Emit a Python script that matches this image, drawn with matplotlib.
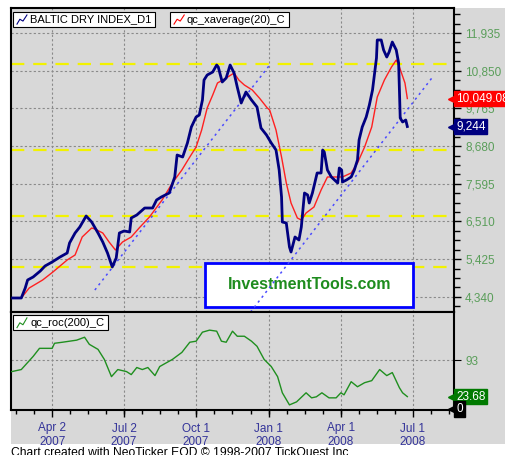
import numpy as np
import pandas as pd
import matplotlib
matplotlib.use("Agg")
import matplotlib.pyplot as plt
import matplotlib.dates as mdates
from matplotlib.patches import Rectangle
from matplotlib.lines import Line2D

plt.rcParams['font.family'] = ['Liberation Sans', 'DejaVu Sans']

# Baltic Dry Index (daily close)
bdi_dates = ["2007-02-11", "2007-02-22", "2007-02-27", "2007-03-02", "2007-03-09", "2007-03-18",
             "2007-03-24", "2007-04-02", "2007-04-12", "2007-04-21", "2007-04-24", "2007-05-01",
             "2007-05-07", "2007-05-15", "2007-05-22", "2007-05-30", "2007-06-05", "2007-06-11",
             "2007-06-17", "2007-06-22", "2007-06-26", "2007-07-02", "2007-07-09", "2007-07-11",
             "2007-07-18", "2007-07-28", "2007-08-07", "2007-08-12", "2007-08-18", "2007-08-28",
             "2007-09-04", "2007-09-07", "2007-09-14", "2007-09-20", "2007-09-25", "2007-10-01",
             "2007-10-05", "2007-10-09", "2007-10-11", "2007-10-15", "2007-10-22", "2007-10-27",
             "2007-10-29", "2007-11-03", "2007-11-08", "2007-11-13", "2007-11-18", "2007-11-22",
             "2007-11-27", "2007-12-03", "2007-12-10", "2007-12-17", "2007-12-22", "2007-12-29",
             "2008-01-04", "2008-01-10", "2008-01-14", "2008-01-17", "2008-01-18", "2008-01-23",
             "2008-01-27", "2008-01-29", "2008-02-03", "2008-02-08", "2008-02-11", "2008-02-15",
             "2008-02-19", "2008-02-21", "2008-02-25", "2008-03-02", "2008-03-07", "2008-03-09",
             "2008-03-11", "2008-03-15", "2008-03-20", "2008-03-24", "2008-03-28", "2008-03-30",
             "2008-04-02", "2008-04-03", "2008-04-08", "2008-04-14", "2008-04-18", "2008-04-22",
             "2008-04-24", "2008-04-28", "2008-05-03", "2008-05-07", "2008-05-11", "2008-05-16",
             "2008-05-17", "2008-05-22", "2008-05-25", "2008-05-29", "2008-06-01", "2008-06-05",
             "2008-06-10", "2008-06-13", "2008-06-14", "2008-06-15", "2008-06-18", "2008-06-22",
             "2008-06-24"]
bdi_values = [4308, 4308, 4596, 4826, 4913, 5085, 5229, 5344, 5488, 5603, 5891, 6179, 6352, 6668,
              6495, 6179, 5920, 5603, 5200, 5459, 6179, 6237, 6208, 6611, 6697, 6898, 6898, 7129,
              7215, 7330, 7791, 8424, 8366, 8769, 9230, 9517, 9575, 10007, 10582, 10726, 10813,
              11014, 10957, 10525, 10640, 11014, 10784, 10381, 9920, 10237, 10007, 9805, 9201,
              8999, 8769, 8568, 7992, 7215, 6495, 6467, 5776, 5632, 6064, 5977, 6352, 7330, 7273,
              7042, 7330, 7906, 7906, 8568, 8510, 7992, 7791, 7704, 7618, 8050, 7992, 7647, 7704,
              7791, 7992, 8280, 8856, 9230, 9517, 9863, 10295, 11216, 11734, 11734, 11446, 11244,
              11388, 11676, 11446, 11072, 10295, 9489, 9374, 9431, 9244]

# qc_xaverage(20)_C
avg_dates = ["2007-02-11", "2007-02-22", "2007-03-04", "2007-03-21", "2007-04-03", "2007-04-21",
             "2007-05-01", "2007-05-10", "2007-05-22", "2007-05-26", "2007-06-05", "2007-06-13",
             "2007-06-21", "2007-06-30", "2007-07-11", "2007-07-21", "2007-08-03", "2007-08-19",
             "2007-09-01", "2007-09-13", "2007-09-23", "2007-10-01", "2007-10-08", "2007-10-15",
             "2007-10-22", "2007-10-28", "2007-11-08", "2007-11-18", "2007-11-24", "2007-12-01",
             "2007-12-11", "2007-12-20", "2007-12-30", "2008-01-02", "2008-01-10", "2008-01-17",
             "2008-01-23", "2008-01-29", "2008-02-06", "2008-02-11", "2008-02-17", "2008-02-27",
             "2008-03-07", "2008-03-15", "2008-03-24", "2008-04-03", "2008-04-14", "2008-04-22",
             "2008-05-01", "2008-05-10", "2008-05-17", "2008-05-26", "2008-06-04", "2008-06-10",
             "2008-06-14", "2008-06-21", "2008-06-24"]
avg_values = [4308, 4308, 4596, 4826, 5057, 5402, 5546, 6064, 6323, 6294, 6179, 5920, 5690, 5920,
              6064, 6323, 6639, 7129, 7618, 7992, 8366, 8654, 9143, 9777, 10151, 10496, 10640,
              10784, 10582, 10438, 10295, 10064, 9777, 9719, 9143, 8366, 7618, 7042, 6611, 6553,
              6755, 6927, 7417, 7791, 7791, 7791, 7906, 8194, 8654, 9230, 10093, 10582, 10957,
              11158, 10957, 10496, 10049.08]

# qc_roc(200)_C
roc_dates = ["2007-02-10", "2007-02-22", "2007-03-09", "2007-03-17", "2007-04-02", "2007-04-05",
             "2007-04-15", "2007-04-24", "2007-05-03", "2007-05-13", "2007-05-19", "2007-05-30",
             "2007-06-07", "2007-06-16", "2007-06-24", "2007-07-05", "2007-07-11", "2007-07-18",
             "2007-07-25", "2007-08-01", "2007-08-10", "2007-08-16", "2007-08-25", "2007-09-01",
             "2007-09-13", "2007-09-23", "2007-10-01", "2007-10-09", "2007-10-18", "2007-10-27",
             "2007-11-02", "2007-11-08", "2007-11-16", "2007-11-22", "2007-12-01", "2007-12-10",
             "2007-12-17", "2007-12-26", "2008-01-04", "2008-01-12", "2008-01-18", "2008-01-27",
             "2008-02-05", "2008-02-17", "2008-02-24", "2008-03-01", "2008-03-08", "2008-03-17",
             "2008-03-26", "2008-04-01", "2008-04-05", "2008-04-14", "2008-04-22", "2008-05-01",
             "2008-05-10", "2008-05-20", "2008-05-29", "2008-06-05", "2008-06-14", "2008-06-18",
             "2008-06-24"]
roc_values = [71.7, 75.6, 100.8, 116.3, 116.3, 126, 128, 130, 132, 137.6, 124, 114.3, 95, 62, 75.6,
              71.7, 65.9, 79.5, 75.6, 79.5, 64, 81.4, 89.1, 95, 108.5, 128, 130, 147.3, 151.2,
              149.2, 130, 128, 149.2, 139.5, 139.5, 130, 120.2, 95, 81.4, 62, 31, 7.8, 13.6, 31,
              21.3, 23.3, 31, 21.3, 21.3, 31, 27.1, 52.3, 42.6, 50.4, 54.3, 75.6, 64, 69.8, 40.7,
              31, 23.68]

# trend lines (start, end)
trend1_dates = ["2007-05-26", "2008-01-02"]
trend1_values = [4538, 11014]
trend2_dates = ["2007-12-04", "2008-07-26"]
trend2_values = [3762, 10669]

yellow_levels = [11050, 8568, 6668, 5209]
price_ticks = [4340, 5425, 6510, 7595, 8680, 9765, 10850, 11935]
roc_ticks = [93]
x_ticks = ["2007-04-02", "2007-07-02", "2007-10-01", "2008-01-01", "2008-04-01", "2008-07-01"]
x_ticklabels = ["Apr 2\n2007", "Jul 2\n2007", "Oct 1\n2007", "Jan 1\n2008", "Apr 1\n2008", "Jul 1\n2008"]
x_range = ["2007-02-09", "2008-08-22"]

BG = '#d8d8d8'
GRID = '#8a8a8a'
TICKCOL = '#5a9e5a'

W, H = 506, 455
fig = plt.figure(figsize=(W / 100, H / 100), dpi=100)
fig.patch.set_facecolor('white')
fig.patches.append(Rectangle((11 / W, 1 - 444 / H), 1 - 11 / W, (444 - 8) / H,
                             transform=fig.transFigure, fc=BG, ec='none', zorder=-10))

ax = fig.add_axes([11 / W, 1 - 312 / H, 443 / W, 304 / H])
ax2 = fig.add_axes([11 / W, 1 - 410 / H, 443 / W, 98 / H], sharex=ax)

d = lambda s: pd.to_datetime(s)

for a in (ax, ax2):
    a.set_facecolor(BG)
    for sp in a.spines.values():
        sp.set_linewidth(1.5)
        sp.set_color('black')
    a.yaxis.tick_right()
    a.grid(True, color=GRID, linestyle=(0, (2, 2)), linewidth=0.8)
    a.set_axisbelow(True)

# ---- main panel ----
for lv in yellow_levels:
    ax.axhline(lv, color='#f2f200', linestyle=(0, (6, 4)), linewidth=1.6, zorder=1)

ax.add_patch(Rectangle((0.438, 0.016), 0.469, 0.145, transform=ax.transAxes,
                       fc='white', ec='#0000ff', lw=2, zorder=3))
ax.text(0.673, 0.089, 'InvestmentTools.com', transform=ax.transAxes, ha='center', va='center',
        fontsize=11.5, fontweight='bold', color='#1e8c1e', zorder=4)

ax.plot(d(trend1_dates), trend1_values, color='#4a4aff', linestyle=(0, (1.5, 2.5)), lw=1.1, zorder=4)
ax.plot(d(trend2_dates), trend2_values, color='#4a4aff', linestyle=(0, (1.5, 2.5)), lw=1.1, zorder=4)
ax.plot(d(avg_dates), avg_values, color='#ff2020', lw=1.0, zorder=5)
ax.plot(d(bdi_dates), bdi_values, color='#000080', lw=2.0, zorder=6)

ax.set_ylim(3905, 12655)
ax.set_yticks(price_ticks)
ax.set_yticklabels([f"{v:,}" for v in price_ticks])
ax.yaxis.set_minor_locator(matplotlib.ticker.MultipleLocator(271.25))
ax.tick_params(axis='y', which='major', length=5, width=1, labelsize=8.5, labelcolor=TICKCOL, pad=3)
ax.tick_params(axis='y', which='minor', length=4, width=1)
ax.tick_params(axis='x', which='both', bottom=False, labelbottom=False)

# legend boxes
ax.add_patch(Rectangle((0.0045, 0.9375), 0.3205, 0.0493, transform=ax.transAxes,
                       fc='white', ec='black', lw=0.8, zorder=7))
ax.text(0.043, 0.962, 'BALTIC DRY INDEX_D1', transform=ax.transAxes, va='center',
        fontsize=8, zorder=8)
ax.add_line(Line2D([0.0135, 0.020, 0.027, 0.036], [0.947, 0.963, 0.957, 0.977],
                   transform=ax.transAxes, color='#000080', lw=0.8, zorder=8))
ax.add_patch(Rectangle((0.359, 0.9375), 0.2686, 0.0493, transform=ax.transAxes,
                       fc='white', ec='black', lw=0.8, zorder=7))
ax.text(0.397, 0.962, 'qc_xaverage(20)_C', transform=ax.transAxes, va='center',
        fontsize=8, zorder=8)
ax.add_line(Line2D([0.368, 0.375, 0.382, 0.391], [0.947, 0.963, 0.957, 0.977],
                   transform=ax.transAxes, color='red', lw=0.8, zorder=8))

# last value flags
bt = matplotlib.transforms.blended_transform_factory(ax.transAxes, ax.transData)
for val, txt, col in [(avg_values[-1], f"{avg_values[-1]:,.2f}", 'red'),
                      (bdi_values[-1], f"{bdi_values[-1]:,}", '#000080')]:
    ax.plot([0.9955], [val], marker='<', color=col, markersize=6, transform=bt, clip_on=False, zorder=9)
    ax.text(1.005, val, txt, transform=bt, ha='left', va='center', fontsize=8.5, color='white',
            bbox=dict(boxstyle='square,pad=0.15', fc=col, ec=col), clip_on=False, zorder=9)

# ---- lower panel ----
ax2.plot(d(roc_dates), roc_values, color='#1f8f1f', lw=1.0, zorder=5)
ax2.set_ylim(-2, 186)
ax2.set_yticks(roc_ticks)
ax2.tick_params(axis='y', length=5, labelsize=8.5, labelcolor=TICKCOL, pad=3)

ax2.add_patch(Rectangle((0.0045, 0.814), 0.2144, 0.155, transform=ax2.transAxes,
                        fc='white', ec='black', lw=0.8, zorder=7))
ax2.text(0.043, 0.892, 'qc_roc(200)_C', transform=ax2.transAxes, va='center', fontsize=8, zorder=8)
ax2.add_line(Line2D([0.0135, 0.020, 0.027, 0.036], [0.84, 0.89, 0.87, 0.94],
                    transform=ax2.transAxes, color='#1f8f1f', lw=0.8, zorder=8))

bt2 = matplotlib.transforms.blended_transform_factory(ax2.transAxes, ax2.transData)
for val, txt, col in [(roc_values[-1], f"{roc_values[-1]:.2f}", '#007a00'), (0, "0", 'black')]:
    ax2.plot([0.9955], [val], marker='<', color=col, markersize=6, transform=bt2, clip_on=False, zorder=9)
    ax2.text(1.005, val, txt, transform=bt2, ha='left', va='center', fontsize=8.5, color='white',
             bbox=dict(boxstyle='square,pad=0.15', fc=col, ec=col), clip_on=False, zorder=9)

# x axis
xt = mdates.date2num(d(x_ticks))
ax2.set_xticks(xt)
ax2.set_xticklabels(x_ticklabels)
step = np.diff(xt).mean() / 4
minor = np.arange(xt[0] - 2 * step, mdates.date2num(d(x_range[1])), step)
ax2.set_xticks(minor, minor=True)
ax2.tick_params(axis='x', which='major', length=5, width=1, labelsize=8.5, labelcolor='#333399', pad=4)
ax2.tick_params(axis='x', which='minor', length=3, width=1)
ax2.set_xlim(d(x_range[0]), d(x_range[1]))
for lab in ax2.get_xticklabels():
    lab.set_linespacing(1.15)

fig.text(11 / W, 1 - 447 / H, 'Chart created with NeoTicker EOD \u00a9 1998-2007 TickQuest Inc.',
         ha='left', va='top', fontsize=8.7, color='black')

fig.savefig('out.png', dpi=100)
